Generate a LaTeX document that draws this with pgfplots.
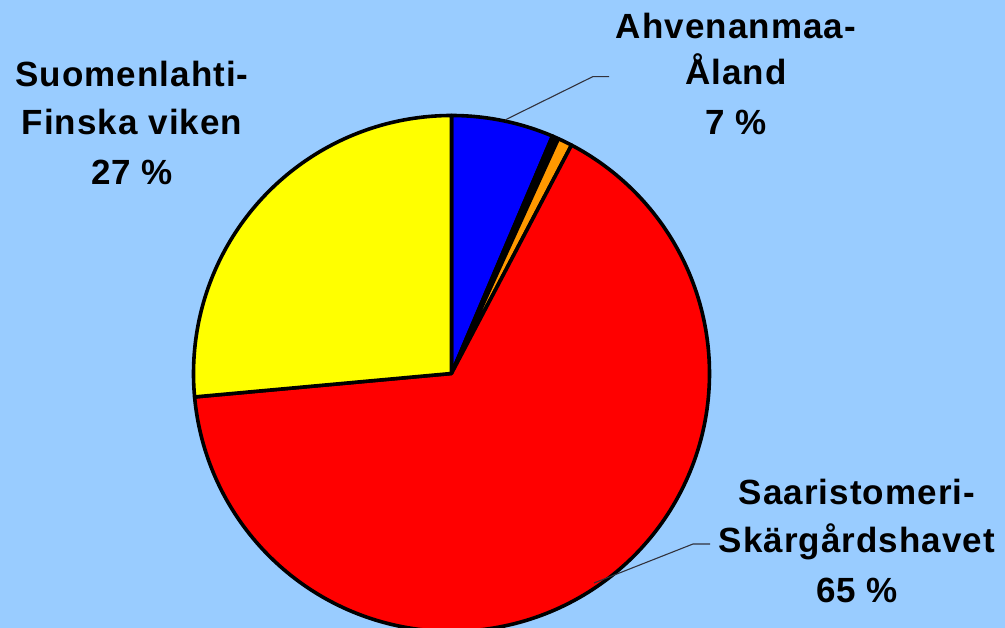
\documentclass[border=0pt]{standalone}
\usepackage{pgfplots}
\usepackage{pgfplotstable}
\pgfplotsset{compat=1.18}
\usepackage{fontspec}
\setmainfont{Liberation Sans}[LetterSpace=3]
\definecolor{bgblue}{RGB}{153,204,255}
\definecolor{sblue}{RGB}{0,0,255}
\definecolor{sorange}{RGB}{255,153,0}
\definecolor{sred}{RGB}{255,0,0}
\definecolor{syellow}{RGB}{255,255,0}
\definecolor{leader}{RGB}{50,50,60}

% share of each slice, per cent, clockwise from 12 o'clock
\pgfplotstableread{
region value
Ahvenanmaa 6.4
Muu 0.4
Muu2 0.9
Saaristomeri 65.85
Suomenlahti 26.45
}\slices

\begin{document}
\begin{tikzpicture}
\pgfplotstablegetelem{0}{value}\of\slices \let\vA\pgfplotsretval
\pgfplotstablegetelem{1}{value}\of\slices \let\vB\pgfplotsretval
\pgfplotstablegetelem{2}{value}\of\slices \let\vC\pgfplotsretval
\pgfplotstablegetelem{3}{value}\of\slices \let\vD\pgfplotsretval
\pgfplotstablegetelem{4}{value}\of\slices \let\vE\pgfplotsretval
\pgfmathsetmacro\aA{90}
\pgfmathsetmacro\aB{\aA-3.6*\vA}
\pgfmathsetmacro\aC{\aB-3.6*\vB}
\pgfmathsetmacro\aD{\aC-3.6*\vC}
\pgfmathsetmacro\aE{\aD-3.6*\vD}
\pgfmathsetmacro\aF{\aE-3.6*\vE}
\def\cx{451.5}
\def\cy{254.5}
\def\rr{258}
\useasboundingbox (0,0) rectangle (1005pt,628pt);
\fill[bgblue] (0,0) rectangle (1005pt,628pt);
\begin{axis}[
  at={(0,0)}, anchor=origin,
  scale only axis, width=1005pt, height=628pt,
  xmin=0, xmax=1005, ymin=0, ymax=628,
  axis lines=none, ticks=none,
  clip=true,
  every axis plot/.append style={line join=round},
  slice/.style={draw=black, line width=3.6pt, samples=90, variable=\t, forget plot},
]
\addplot[slice, fill=sblue, domain=\aB:\aA] ({\cx+\rr*cos(\t)},{\cy+\rr*sin(\t)}) -- (axis cs:\cx,\cy) -- cycle;
\addplot[slice, fill=black, domain=\aC:\aB, samples=5] ({\cx+\rr*cos(\t)},{\cy+\rr*sin(\t)}) -- (axis cs:\cx,\cy) -- cycle;
\addplot[slice, fill=sorange, domain=\aD:\aC, samples=8] ({\cx+\rr*cos(\t)},{\cy+\rr*sin(\t)}) -- (axis cs:\cx,\cy) -- cycle;
\addplot[slice, fill=sred, domain=\aE:\aD, samples=200] ({\cx+\rr*cos(\t)},{\cy+\rr*sin(\t)}) -- (axis cs:\cx,\cy) -- cycle;
\addplot[slice, fill=syellow, domain=\aF:\aE] ({\cx+\rr*cos(\t)},{\cy+\rr*sin(\t)}) -- (axis cs:\cx,\cy) -- cycle;

% leader lines
\addplot[leader, line width=1.1pt, no marks] coordinates {(505,508) (592.7,551.3) (609,551.3)};
\addplot[leader, line width=1.1pt, no marks] coordinates {(594,45) (693,84) (710,84)};

\begin{scope}[every node/.style={anchor=base, inner sep=0pt, font=\fontsize{35}{42}\selectfont\bfseries}]
\node at (axis cs:132,541.3) {Suomenlahti-};
\node at (axis cs:132,493) {Finska viken};
\node at (axis cs:132,443) {27 \%};
\node at (axis cs:736,589) {Ahvenanmaa-};
\node at (axis cs:736,543) {Åland};
\node at (axis cs:736,493) {7 \%};
\node at (axis cs:857,123) {Saaristomeri-};
\node at (axis cs:857,75) {Skärgårdshavet};
\node at (axis cs:857,25) {65 \%};
\end{scope}
\end{axis}
\end{tikzpicture}
\end{document}
